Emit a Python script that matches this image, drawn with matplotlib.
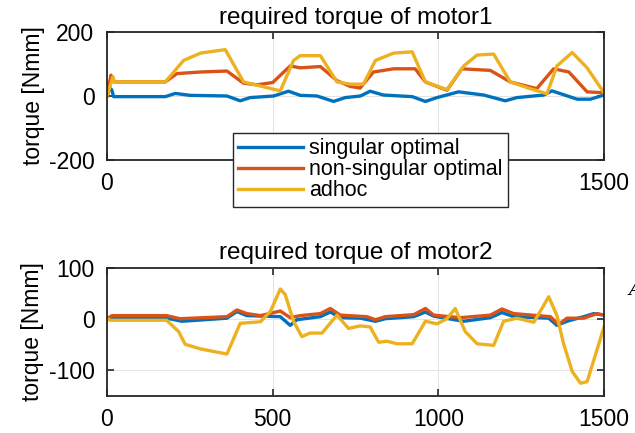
import numpy as np
import matplotlib
matplotlib.use("Agg")
import matplotlib.pyplot as plt

plt.rcParams['font.family'] = ['Liberation Sans', 'DejaVu Sans']
plt.rcParams['axes.unicode_minus'] = False

c_blue = '#0072BD'
c_red = '#D95319'
c_yel = '#EDB120'

# motor1 (top)
m1_sing_x = [0, 8, 14, 20, 176, 206, 251, 362, 402, 432, 503, 548, 583, 634, 684, 719,
             765, 794, 834, 921, 961, 996, 1061, 1137, 1202, 1237, 1318, 1343, 1419, 1459, 1500]
m1_sing_y = [0, 25, 20, -2, -2, 8, 2, 0, -15, -5, 0, 15, 2, 0, -17, -5,
             0, 15, 3, -2, -17, -5, 13, 3, -15, -5, 3, 16, -10, -10, 3]

m1_nons_x = [0, 12, 18, 22, 176, 211, 282, 362, 412, 453, 500, 553, 583, 644, 694, 734,
             764, 804, 865, 930, 961, 1026, 1071, 1157, 1217, 1297, 1348, 1394, 1449, 1500]
m1_nons_y = [0, 65, 48, 44, 44, 70, 75, 78, 40, 35, 42, 94, 88, 92, 48, 30,
             25, 75, 85, 85, 44, 18, 85, 80, 44, 23, 85, 75, 13, 10]

m1_adhoc_x = [0, 18, 22, 176, 231, 282, 357, 412, 523, 563, 583, 644, 694, 734, 774,
              810, 865, 921, 961, 1026, 1077, 1117, 1167, 1217, 1277, 1328, 1358, 1404,
              1449, 1500]
m1_adhoc_y = [0, 60, 44, 44, 111, 134, 145, 44, 16, 111, 126, 126, 44, 37, 37,
              111, 134, 138, 44, 20, 94, 128, 131, 44, 23, 7, 94, 136,
              88, 10]

# motor2 (bottom)
m2_sing_x = [0, 15, 180, 226, 362, 392, 422, 523, 553, 573, 644, 674, 704, 765, 810,
             840, 926, 961, 986, 1076, 1157, 1192, 1227, 1333, 1358, 1388, 1439, 1469, 1500]
m2_sing_y = [0, 1, 1, -5, 1, 14, 6, 4, -13, -2, 4, 13, 2, 1, -5,
             0, 4, 13, 5, -5, 2, 12, 4, 1, -13, -5, 4, 10, 7]

m2_nons_x = [0, 15, 180, 220, 362, 392, 422, 463, 523, 553, 583, 644, 674, 704, 784,
             810, 840, 926, 961, 986, 1066, 1157, 1192, 1227, 1338, 1363, 1388, 1439,
             1479, 1500]
m2_nons_y = [0, 6, 6, 0, 4, 17, 10, 6, 15, 2, 6, 10, 20, 7, 4,
             -2, 4, 8, 20, 7, 2, 7, 19, 10, 4, -11, 1, 1,
             10, 7]

m2_adhoc_x = [0, 10, 180, 216, 236, 282, 322, 362, 402, 463, 493, 523, 538, 563, 588,
              613, 649, 694, 729, 764, 794, 820, 845, 875, 921, 961, 996, 1026, 1051,
              1081, 1117, 1167, 1197, 1237, 1288, 1318, 1333, 1358, 1378, 1404, 1429,
              1449, 1474, 1500]
m2_adhoc_y = [0, -3, -3, -25, -50, -59, -64, -69, -9, -6, 14, 58, 47, -5, -35,
              -28, -28, 7, -19, -14, -16, -46, -44, -49, -49, -5, -10, 0, 20,
              -25, -49, -52, -5, 1, -7, 26, 43, 6, -49, -103, -126,
              -123, -71, -16]

lw = 2.4

fig = plt.figure(figsize=(6.35, 4.33), dpi=100)
ax1 = fig.add_axes([0.1685, 0.6305, 0.7827, 0.2956])
ax2 = fig.add_axes([0.1685, 0.0866, 0.7827, 0.2956])

l1, = ax1.plot(m1_sing_x, m1_sing_y, color=c_blue, lw=lw, label='singular optimal')
l2, = ax1.plot(m1_nons_x, m1_nons_y, color=c_red, lw=lw, label='non-singular optimal')
l3, = ax1.plot(m1_adhoc_x, m1_adhoc_y, color=c_yel, lw=lw, label='adhoc')
ax1.set_ylim(-200, 200)
ax1.set_yticks([-200, 0, 200])
ax1.set_xticks([0, 500, 1000, 1500])
ax1.set_xticklabels(['0', '', '', '1500'])
ax1.set_title('required torque of motor1', fontsize=17.5, pad=6)

ax2.plot(m2_sing_x, m2_sing_y, color=c_blue, lw=lw)
ax2.plot(m2_nons_x, m2_nons_y, color=c_red, lw=lw)
ax2.plot(m2_adhoc_x, m2_adhoc_y, color=c_yel, lw=lw)
ax2.set_ylim(-150, 100)
ax2.set_yticks([-100, 0, 100])
ax2.set_xticks([0, 500, 1000, 1500])
ax2.set_title('required torque of motor2', fontsize=17.5, pad=6)

for ax in (ax1, ax2):
    ax.set_xlim(0, 1500)
    ax.grid(True, color='#e3e3e3', lw=0.7)
    ax.set_axisbelow(True)
    ax.tick_params(direction='in', top=True, right=True, labelsize=16.5,
                   length=5, width=1.2, pad=9, color='#262626')
    for s in ax.spines.values():
        s.set_linewidth(1.3)
        s.set_color('#262626')
    ax.set_ylabel('torque [Nmm]', fontsize=16.5, labelpad=3)

leg = fig.legend(handles=[l1, l2, l3], loc='upper left',
                 bbox_to_anchor=(0.367, 0.693), borderaxespad=0,
                 fontsize=15.5, fancybox=False, framealpha=1, edgecolor='#262626',
                 handlelength=3.0, handletextpad=0.3, labelspacing=0.0,
                 borderpad=0.25)
leg.get_frame().set_linewidth(1.0)

fig.text(0.99, 0.33, 'A', fontsize=14, style='italic', family='DejaVu Serif',
         ha='left', va='center')

fig.savefig('out.png', dpi=100)
